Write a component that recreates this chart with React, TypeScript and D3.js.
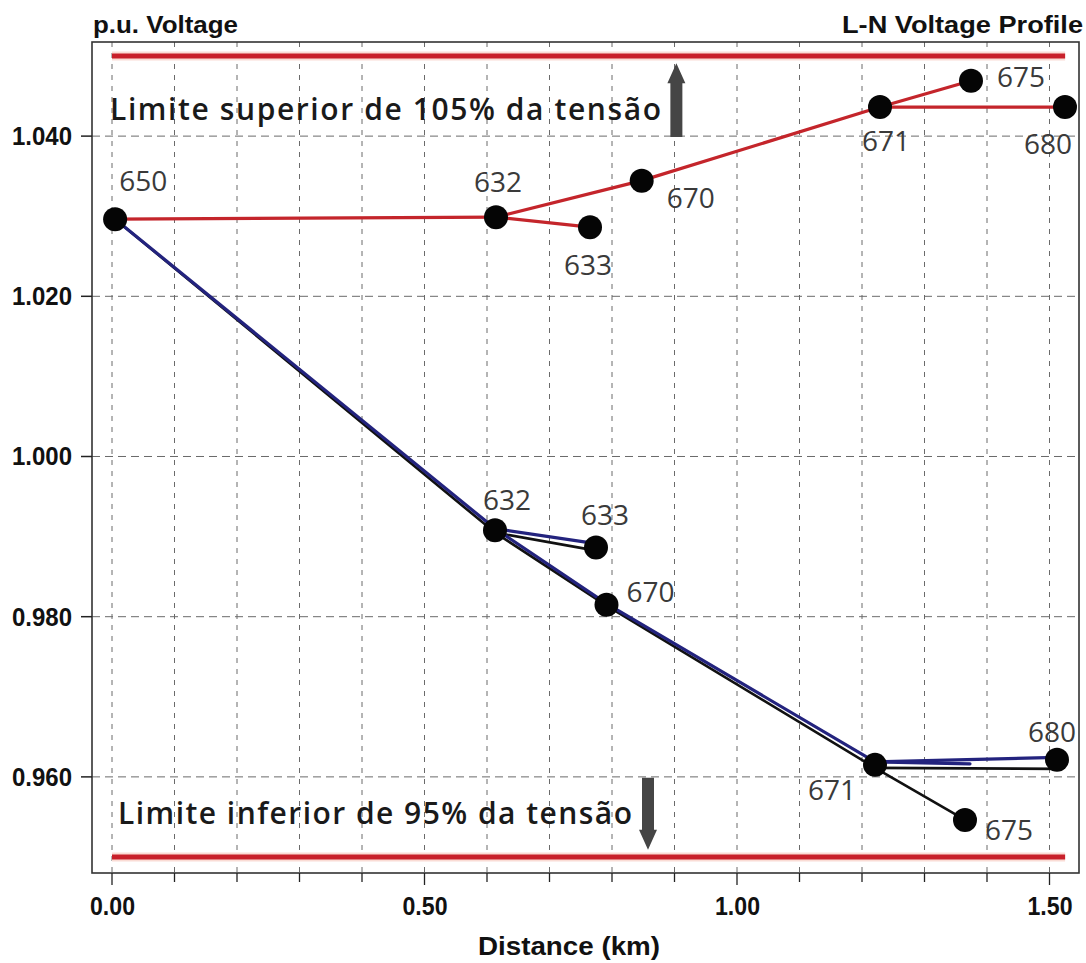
import React, { useEffect, useRef } from "react";
import * as d3 from "d3";

// Bus names of the IEEE 13-node feeder shown on the profile
const nodeNames = ["650", "632", "633", "670", "671", "675", "680"];

// Regulated phase (red trace): distance from substation (km) and p.u. voltage
const upperDist = [0.005, 0.6144, 0.7648, 0.8475, 1.2288, 1.3744, 1.5248];
const upperVolt = [1.02963, 1.02988, 1.02863, 1.03444, 1.04363, 1.04691, 1.04363];

// Unregulated phases (blue and black traces)
const blueDist = [0.005, 0.6128, 0.7744, 0.7912, 1.2208, 1.3728, 1.512];
const blueVolt = [1.02963, 0.991, 0.98913, 0.98163, 0.96188, 0.96163, 0.96244];
const blackDist = [0.005, 0.6128, 0.7744, 0.7912, 1.2208, 1.3648, 1.512];
const blackVolt = [1.02963, 0.9905, 0.98825, 0.98138, 0.96113, 0.95463, 0.961];

// Bus markers on the lower traces (675 of the blue trace carries no marker)
const lowerMarkerDist = [0.005, 0.6128, 0.7744, 0.7912, 1.2208, 1.3648, 1.512];
const lowerMarkerVolt = [1.02963, 0.9908, 0.98863, 0.9815, 0.9615, 0.95463, 0.96213];

// Feeder branches as [from, to] indices into nodeNames
const branches: [number, number][] = [
  [0, 1],
  [1, 2],
  [1, 3],
  [3, 4],
  [4, 5],
  [4, 6],
];

// Voltage limits and axis ticks
const upperLimit = 1.05;
const lowerLimit = 0.95;
const limitSpan = [0, 1.525];
const yTicks = [0.96, 0.98, 1.0, 1.02, 1.04];
const xMajorTicks = [0, 0.5, 1.0, 1.5];
const xMinorTicks = [0, 0.1, 0.2, 0.3, 0.4, 0.5, 0.6, 0.7, 0.8, 0.9, 1.0, 1.1, 1.2, 1.3, 1.4, 1.5];

// Arrow annotations (x in km, from/to voltage)
const upArrow = { x: 0.903, from: 1.0399, to: 1.0491 };
const downArrow = { x: 0.8576, from: 0.9599, to: 0.9509 };

// Label placement around each marker: [dx, dy, anchor]
const upperLabelLayout: [number, number, string][] = [
  [4, -38, "start"],
  [2, -35, "middle"],
  [-2, 38, "middle"],
  [25, 17, "start"],
  [6, 34, "middle"],
  [26, -4, "start"],
  [-17, 37, "middle"],
];
const lowerLabelLayout: ([number, number, string] | null)[] = [
  null,
  [12, -30, "middle"],
  [9, -33, "middle"],
  [20, -13, "start"],
  [-43, 25, "middle"],
  [20, 10, "start"],
  [-5, -28, "middle"],
];

const W = 1086;
const H = 963;
const plot = { left: 92, right: 1079, top: 42, bottom: 873 };

export default function App() {
  const ref = useRef<SVGSVGElement | null>(null);

  useEffect(() => {
    const svg = d3.select(ref.current);
    svg.selectAll("*").remove();

    const x = d3.scaleLinear().domain([-0.032, 1.5472]).range([plot.left, plot.right]);
    const y = d3.scaleLinear().domain([0.948, 1.05175]).range([plot.bottom, plot.top]);

    const axisFont = "'Liberation Sans Narrow', 'Liberation Sans', Arial, sans-serif";
    const labelFont = "'Open Sans', 'Noto Sans', sans-serif";

    // Grid
    const grid = svg.append("g");
    grid
      .selectAll("line.v")
      .data(xMinorTicks)
      .join("line")
      .attr("x1", (d) => x(d))
      .attr("x2", (d) => x(d))
      .attr("y1", plot.top)
      .attr("y2", plot.bottom)
      .attr("stroke", "#6a6a6a")
      .attr("stroke-width", 1)
      .attr("stroke-dasharray", "5,6");
    grid
      .selectAll("line.h")
      .data(yTicks)
      .join("line")
      .attr("x1", plot.left)
      .attr("x2", plot.right)
      .attr("y1", (d) => y(d))
      .attr("y2", (d) => y(d))
      .attr("stroke", "#6a6a6a")
      .attr("stroke-width", 1)
      .attr("stroke-dasharray", "8,5");

    // Limit lines with a soft halo
    [upperLimit, lowerLimit].forEach((v) => {
      svg
        .append("line")
        .attr("x1", x(limitSpan[0]))
        .attr("x2", x(limitSpan[1]))
        .attr("y1", y(v))
        .attr("y2", y(v))
        .attr("stroke", "#fadcd5")
        .attr("stroke-width", 9);
      svg
        .append("line")
        .attr("x1", x(limitSpan[0]))
        .attr("x2", x(limitSpan[1]))
        .attr("y1", y(v))
        .attr("y2", y(v))
        .attr("stroke", "#c8202a")
        .attr("stroke-width", 5);
    });

    const drawBranches = (dist: number[], volt: number[], color: string, width: number) => {
      svg
        .append("g")
        .selectAll("line")
        .data(branches)
        .join("line")
        .attr("x1", (b) => x(dist[b[0]]))
        .attr("y1", (b) => y(volt[b[0]]))
        .attr("x2", (b) => x(dist[b[1]]))
        .attr("y2", (b) => y(volt[b[1]]))
        .attr("stroke", color)
        .attr("stroke-width", width)
        .attr("stroke-linecap", "round");
    };

    drawBranches(blackDist, blackVolt, "#111111", 2.6);
    drawBranches(blueDist, blueVolt, "#23237e", 3.2);
    drawBranches(upperDist, upperVolt, "#c4252b", 3.2);

    // Markers
    const drawMarkers = (dist: number[], volt: number[]) => {
      svg
        .append("g")
        .selectAll("circle")
        .data(dist.map((d, i) => [d, volt[i]]))
        .join("circle")
        .attr("cx", (d) => x(d[0]))
        .attr("cy", (d) => y(d[1]))
        .attr("r", 12)
        .attr("fill", "#050505");
    };
    drawMarkers(upperDist, upperVolt);
    drawMarkers(lowerMarkerDist.slice(1), lowerMarkerVolt.slice(1));

    // Bus labels
    const drawLabels = (
      dist: number[],
      volt: number[],
      layout: ([number, number, string] | null)[]
    ) => {
      const items = nodeNames
        .map((n, i) => ({ n, i, l: layout[i] }))
        .filter((o) => o.l !== null);
      svg
        .append("g")
        .selectAll("text")
        .data(items)
        .join("text")
        .attr("x", (o) => x(dist[o.i]) + (o.l as any)[0])
        .attr("y", (o) => y(volt[o.i]) + (o.l as any)[1] + 10)
        .attr("text-anchor", (o) => (o.l as any)[2])
        .attr("font-family", labelFont)
        .attr("font-size", 28)
        .attr("fill", "#3a3a3a")
        .text((o) => o.n);
    };
    drawLabels(upperDist, upperVolt, upperLabelLayout);
    drawLabels(lowerMarkerDist, lowerMarkerVolt, lowerLabelLayout);

    // Arrows
    const drawArrow = (a: { x: number; from: number; to: number }) => {
      const x0 = x(a.x);
      const y0 = y(a.from);
      const y1 = y(a.to);
      const dir = y1 < y0 ? -1 : 1;
      const headLen = 20;
      const headHalf = 9;
      const shaftHalf = 6;
      const yh = y1 - dir * headLen;
      const pts: [number, number][] = [
        [x0 - shaftHalf, y0],
        [x0 + shaftHalf, y0],
        [x0 + shaftHalf, yh],
        [x0 + headHalf, yh],
        [x0, y1],
        [x0 - headHalf, yh],
        [x0 - shaftHalf, yh],
      ];
      svg
        .append("path")
        .attr("d", d3.line()(pts) + "Z")
        .attr("fill", "#454545");
    };
    drawArrow(upArrow);
    drawArrow(downArrow);

    // Limit annotations
    svg
      .append("text")
      .attr("x", x(0) - 2)
      .attr("y", y(1.04) - 16)
      .attr("font-family", labelFont)
      .attr("font-weight", 600)
      .attr("font-size", 30)
      .attr("fill", "#1a1a1a")
      .attr("textLength", 551)
      .attr("lengthAdjust", "spacing")
      .text("Limite superior de 105% da tensão");
    svg
      .append("text")
      .attr("x", x(0) + 6)
      .attr("y", y(0.96) + 47)
      .attr("font-family", labelFont)
      .attr("font-weight", 600)
      .attr("font-size", 30)
      .attr("fill", "#1a1a1a")
      .attr("textLength", 514)
      .attr("lengthAdjust", "spacing")
      .text("Limite inferior de 95% da tensão");

    // Frame
    svg
      .append("rect")
      .attr("x", plot.left)
      .attr("y", plot.top)
      .attr("width", plot.right - plot.left)
      .attr("height", plot.bottom - plot.top)
      .attr("fill", "none")
      .attr("stroke", "#333333")
      .attr("stroke-width", 1.6);

    // Y axis ticks and labels
    const yAxis = svg.append("g");
    yAxis
      .selectAll("line")
      .data(yTicks)
      .join("line")
      .attr("x1", plot.left - 11)
      .attr("x2", plot.left)
      .attr("y1", (d) => y(d))
      .attr("y2", (d) => y(d))
      .attr("stroke", "#222")
      .attr("stroke-width", 1.5);
    yAxis
      .selectAll("text")
      .data(yTicks)
      .join("text")
      .attr("x", plot.left - 80)
      .attr("y", (d) => y(d) + 9)
      .attr("font-family", axisFont)
      .attr("font-weight", 700)
      .attr("font-size", 25)
      .attr("fill", "#111")
      .attr("textLength", 60)
      .attr("lengthAdjust", "spacingAndGlyphs")
      .text((d) => d3.format(".3f")(d));

    // X axis ticks and labels
    const xAxis = svg.append("g");
    xAxis
      .selectAll("line")
      .data(xMinorTicks)
      .join("line")
      .attr("x1", (d) => x(d))
      .attr("x2", (d) => x(d))
      .attr("y1", plot.bottom)
      .attr("y2", (d) => plot.bottom + (xMajorTicks.some((m) => Math.abs(m - d) < 1e-9) ? 12 : 9))
      .attr("stroke", "#222")
      .attr("stroke-width", 1.3);
    xAxis
      .selectAll("text")
      .data(xMajorTicks)
      .join("text")
      .attr("x", (d) => x(d) - 22)
      .attr("y", plot.bottom + 42)
      .attr("font-family", axisFont)
      .attr("font-weight", 700)
      .attr("font-size", 25)
      .attr("fill", "#111")
      .attr("textLength", 45)
      .attr("lengthAdjust", "spacingAndGlyphs")
      .text((d) => d3.format(".2f")(d));

    // Titles
    svg
      .append("text")
      .attr("x", 570 - 92)
      .attr("y", plot.bottom + 82)
      .attr("font-family", axisFont)
      .attr("font-weight", 700)
      .attr("font-size", 25)
      .attr("fill", "#111")
      .attr("textLength", 182)
      .attr("lengthAdjust", "spacingAndGlyphs")
      .text("Distance (km)");
    svg
      .append("text")
      .attr("x", plot.left + 1)
      .attr("y", 33)
      .attr("font-family", axisFont)
      .attr("font-weight", 700)
      .attr("font-size", 24)
      .attr("fill", "#111")
      .attr("textLength", 145)
      .attr("lengthAdjust", "spacingAndGlyphs")
      .text("p.u. Voltage");
    svg
      .append("text")
      .attr("x", W - 3 - 241)
      .attr("y", 33)
      .attr("font-family", axisFont)
      .attr("font-weight", 700)
      .attr("font-size", 24)
      .attr("fill", "#111")
      .attr("textLength", 241)
      .attr("lengthAdjust", "spacingAndGlyphs")
      .text("L-N Voltage Profile");
  }, []);

  return (
    <svg
      ref={ref}
      width={W}
      height={H}
      style={{ position: "absolute", left: 0, top: 0, background: "#ffffff" }}
    />
  );
}
